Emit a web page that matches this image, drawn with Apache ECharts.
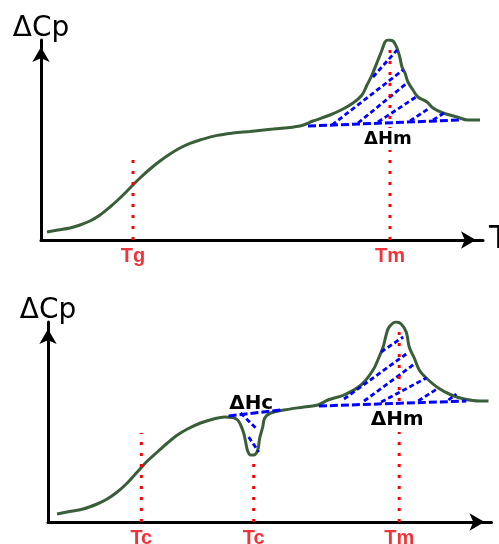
<!DOCTYPE html>
<html><head><meta charset="utf-8">
<script src="https://cdn.jsdelivr.net/npm/echarts@6/dist/echarts.min.js"></script>
<style>html,body{margin:0;padding:0;background:#fff}#c{width:499px;height:544px}</style>
</head><body><div id="c"></div>
<script>
// ---------- TOP PANEL: glass transition + melting ----------
const topCurve = [[3,4],[8.5,5],[14.5,6],[19.5,7.5],[24.5,9.5],[29.5,12.5],[34.5,16.5],[39.5,21],[44.5,26],[49.5,31],[54.5,35.5],[59.5,39.5],[64.5,43],[69.5,46],[74.5,48.3],[79.5,50],[88,52.3],[96,53.5],[104.5,54.3],[116,55.5],[129.5,57],[136,59.5],[144.5,62.5],[151,65.5],[156,68.5],[160.5,72.5],[163,77.5],[165.5,82.5],[168.5,90],[170.5,95],[172,99],[173.5,100],[176,99.5],[178,96],[179.5,91],[180.5,86.5],[182,83.5],[183.5,79],[186,75],[188.5,71.5],[193,69],[196,66],[201,63.5],[208,61.5],[213.5,60],[219.5,60]];
const topBaseline = [[133.5,57],[209.5,60]];
const topHatches = [
  [[166,81.5],[178,95]],
  [[145.5,57.5],[181,85]],
  [[158.5,58.5],[183,78.5]],
  [[168.5,59],[187.5,71.5]],
  [[184.5,59.5],[193.5,65.5]],
  [[196,60],[201.5,63.5]]
];
const topMarkerNames = ['Tg','Tm'];
const topMarkerX = [46,174.5];
const topMarkerTop = [43.5,99];
const topEnthalpyNames = ['ΔHm'];
const topEnthalpyPos = [[173.5,50.5]];

// ---------- BOTTOM PANEL: glass transition + crystallisation + melting ----------
const botCurve = [[4.5,4],[9.5,5],[17.5,6.5],[24.5,9],[29.5,11.5],[34.5,15],[39.5,19.5],[44.5,25],[49.5,30.5],[54.5,35],[59.5,39.5],[64.5,43.5],[69.5,46.5],[76,49.5],[82.5,51.5],[88,52.5],[92,52.3],[94.5,51],[96,48.5],[97.5,44.5],[98.5,40],[99.5,35.5],[101,33.5],[102.5,33.5],[104.5,36],[105.5,42],[107,47.5],[108,52],[111,54.5],[117.5,56],[127.5,57.5],[134.5,58.5],[139.5,61],[147.5,63.5],[156,68.5],[162,76],[165,82.5],[167,87.5],[168.5,93.5],[170,97.5],[173.5,100],[176,99],[178.5,95],[180,87.5],[182.5,82],[185,76],[188.5,72],[194.5,67],[201,63.5],[207.5,61.5],[215,60.5],[219.5,60.5]];
const botBaselines = [
  [[90,53],[116,56]],
  [[135,58],[208.5,60.5]]
];
const botHatches = [
  [[96,54.5],[104.5,46]],
  [[100,42.5],[105,35]],
  [[166,85],[177,92.5]],
  [[147.5,61.5],[178.5,84]],
  [[157.5,60.5],[182.5,79]],
  [[166,60],[188.5,72]],
  [[184.5,60.5],[194.5,67]],
  [[199.5,61],[203.5,64]]
];
const botMarkerNames = ['Tc','Tc','Tm'];
const botMarkerX = [46.5,102.5,175];
const botMarkerTop = [44.5,33,99];
const botEnthalpyNames = ['ΔHc','ΔHm'];
const botEnthalpyPos = [[101.25,59],[174,51]];

const GREEN = '#3a5e3a', BLUE = '#0000ff', RED = '#ff0000', LABELRED = '#f0343c';
const FONT = 'DejaVu Sans';

function panelSeries(i, curve, baselines, hatches, mx, mtop, enNames, enPos, enSize) {
  const s = [];
  s.push({type:'line', xAxisIndex:i, yAxisIndex:i, data:curve, smooth:0.35, showSymbol:false, silent:true,
    lineStyle:{color:GREEN, width:3}, z:2});
  baselines.forEach(b => s.push({type:'line', xAxisIndex:i, yAxisIndex:i, data:b, showSymbol:false, silent:true,
    lineStyle:{color:BLUE, width:3, type:[8,3]}, z:3}));
  hatches.forEach(h => s.push({type:'line', xAxisIndex:i, yAxisIndex:i, data:h, showSymbol:false, silent:true,
    lineStyle:{color:BLUE, width:2.8, type:[5,3]}, z:3}));
  mx.forEach((x,k) => s.push({type:'line', xAxisIndex:i, yAxisIndex:i, data:[[x,0],[x,mtop[k]]], showSymbol:false, silent:true,
    lineStyle:{color:RED, width:3, type:[3,8]}, z:4}));
  s.push({type:'scatter', xAxisIndex:i, yAxisIndex:i, silent:true, symbolSize:1, itemStyle:{color:'rgba(0,0,0,0)', opacity:1}, z:6,
    data: enPos.map((p,k)=>({value:p, name:enNames[k],
      label: enNames[k]==='ΔHm' ? {backgroundColor:'#fff', padding:[0,2,4,2]} : {backgroundColor:'transparent', padding:0}})),
    label:{show:true, position:'inside', formatter:p=>p.name, color:'#000', opacity:1, fontFamily:FONT, fontWeight:'bold', fontSize:enSize}});
  return s;
}

function xAxisFor(i, names, xs, withName) {
  return {type:'value', gridIndex:i, min:0, max:221, splitLine:{show:false}, axisTick:{show:false},
    axisLine:{show:true, lineStyle:{color:'#000', width:3}, symbol:['none','arrow'], symbolSize:[13,15], symbolOffset:[0,-7]},
    axisLabel:{show:true, customValues:xs, margin:6, color:LABELRED, fontFamily:'Liberation Sans', fontWeight:'bold', fontSize:20,
      formatter:v=>{let b=0;xs.forEach((x,k)=>{if(Math.abs(x-v)<Math.abs(xs[b]-v))b=k;});return names[b];}},
    name: withName ? 'T' : '', nameLocation:'end', nameGap:6,
    nameTextStyle:{color:'#000', fontFamily:FONT, fontSize:32, padding:[20,0,0,0]}};
}
function yAxisFor(i) {
  return {type:'value', gridIndex:i, min:0, max:100, splitLine:{show:false}, axisTick:{show:false}, axisLabel:{show:false},
    axisLine:{show:true, lineStyle:{color:'#000', width:3}, symbol:['none','arrow'], symbolSize:[13,15], symbolOffset:[0,-7]},
    name:'ΔCp', nameLocation:'end', nameGap:-3,
    nameTextStyle:{color:'#000', fontFamily:FONT, fontSize:28}};
}

const chart = echarts.init(document.getElementById('c'), null, {renderer:'canvas'});
chart.setOption({
  animation:false,
  backgroundColor:'#fff',
  grid:[
    {left:41, right:16, top:40, height:200, containLabel:false, outerBoundsMode:'none'},
    {left:48, right:7.5, top:322, height:200, containLabel:false, outerBoundsMode:'none'}
  ],
  xAxis:[xAxisFor(0, topMarkerNames, topMarkerX, true), xAxisFor(1, botMarkerNames, botMarkerX, false)],
  yAxis:[yAxisFor(0), yAxisFor(1)],
  series:[
    ...panelSeries(0, topCurve, [topBaseline], topHatches, topMarkerX, topMarkerTop, topEnthalpyNames, topEnthalpyPos, 18),
    ...panelSeries(1, botCurve, botBaselines, botHatches, botMarkerX, botMarkerTop, botEnthalpyNames, botEnthalpyPos, 20)
  ]
});
</script>
</body></html>
